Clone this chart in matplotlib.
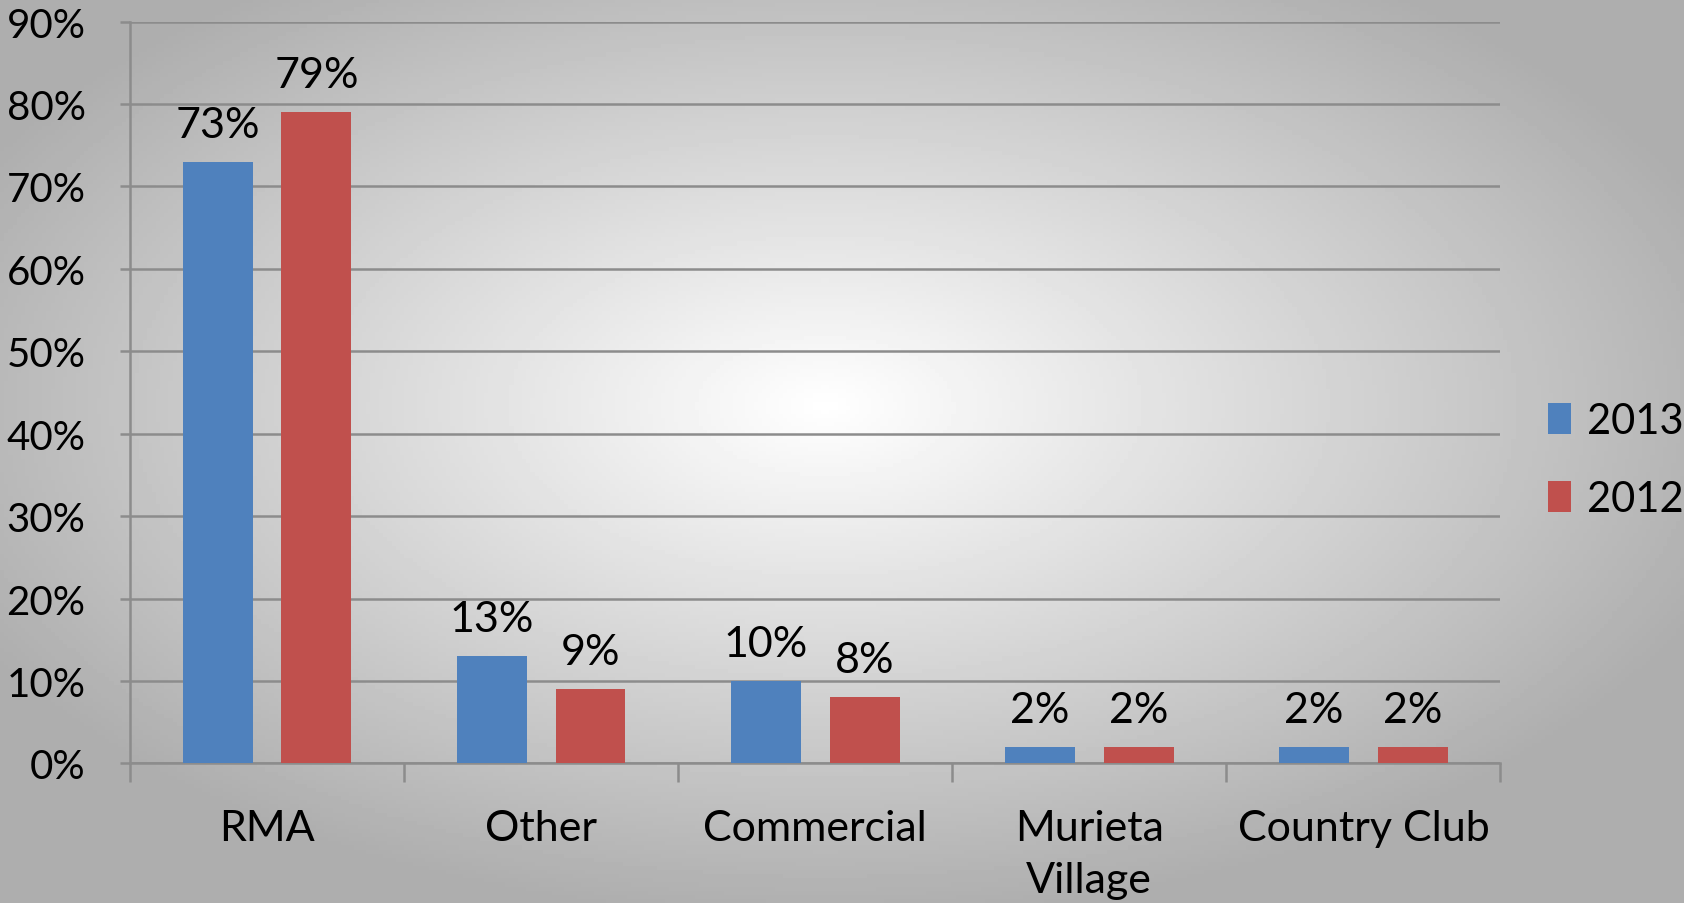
import numpy as np
import matplotlib.pyplot as plt
from matplotlib.ticker import PercentFormatter

## data
categories = ['RMA', 'Other', 'Commercial', 'Murieta\nVillage', 'Country Club']
vals_2013 = [73, 13, 10, 2, 2]
vals_2012 = [79, 9, 8, 2, 2]
yticks = np.arange(0, 91, 10)

blue = '#4F81BD'
red = '#C0504D'
grid_col = '#8c8c8c'
fs = 31

plt.rcParams['font.family'] = ['Lato', 'DejaVu Sans']

fig = plt.figure(figsize=(16.84, 9.04), dpi=100)

## radial grey background
bg = fig.add_axes([0, 0, 1, 1], zorder=0)
xx, yy = np.meshgrid(np.linspace(0, 1, 400), np.linspace(0, 1, 220))
r = np.sqrt(((xx - 0.49) / 0.75) ** 2 + ((yy - 0.45) / 0.75) ** 2)
shade = np.clip(1.0 - 0.42 * r, 0.68, 1.0)
bg.imshow(shade, cmap='gray', vmin=0, vmax=1, aspect='auto', extent=[0, 1, 1, 0])
bg.axis('off')

ax = fig.add_axes([0.0772, 0.1544, 0.8138, 0.8206], zorder=1)
ax.patch.set_alpha(0)

x = np.arange(len(categories))
w = 0.255
off = 0.18
b1 = ax.bar(x - off, vals_2013, w, color=blue, label='2013', zorder=3)
b2 = ax.bar(x + off, vals_2012, w, color=red, label='2012', zorder=3)

for bars, vals in [(b1, vals_2013), (b2, vals_2012)]:
    for b, v in zip(bars, vals):
        ax.annotate('%d%%' % v, (b.get_x() + b.get_width() / 2, v),
                    xytext=(0, 13), textcoords='offset points',
                    ha='center', va='bottom', fontsize=fs)

ax.set_xlim(-0.5, len(categories) - 0.5)
ax.set_ylim(0, 90)
ax.set_yticks(yticks)
ax.yaxis.set_major_formatter(PercentFormatter(decimals=0))
ax.grid(axis='y', color=grid_col, lw=1.8, zorder=0)

ax.set_xticks(x)
ax.set_xticklabels(categories, fontsize=fs, linespacing=1.45, va='top')
ax.set_xticks(np.arange(-0.5, len(categories)), minor=True)
ax.tick_params(axis='x', which='major', length=0, pad=33)
ax.tick_params(axis='x', which='minor', length=14, width=1.8, color=grid_col)
ax.tick_params(axis='y', length=7, width=1.8, color=grid_col, labelsize=29, pad=25)

for s in ['top', 'right']:
    ax.spines[s].set_visible(False)
for s in ['left', 'bottom']:
    ax.spines[s].set_color(grid_col)
    ax.spines[s].set_linewidth(1.8)

fig.legend(loc='center left', bbox_to_anchor=(0.919, 0.49), frameon=False,
           fontsize=30, handlelength=0.55, handleheight=0.75, handletextpad=0.4,
           labelspacing=0.95, borderpad=0, borderaxespad=0)

fig.savefig('out.png', dpi=100)
